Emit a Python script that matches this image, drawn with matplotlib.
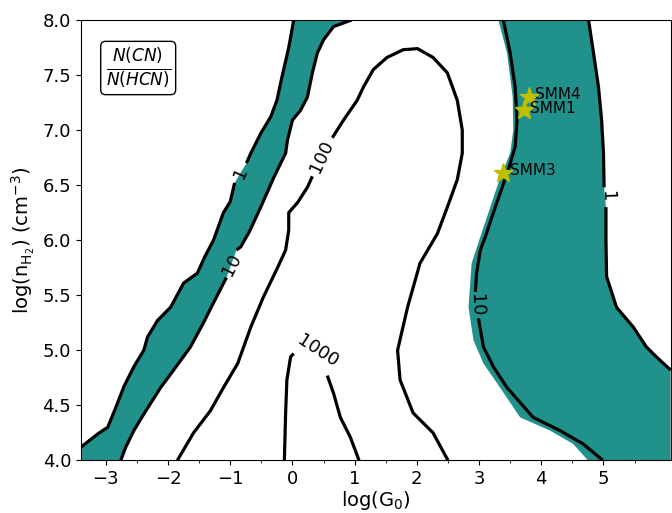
import matplotlib
matplotlib.use('Agg')
import matplotlib.pyplot as plt

# axis range, log(G0) and log(n_H2)
x_min, x_max = -3.4, 6.08
y_min, y_max = 4.0, 8.0

teal = '#21918c'

# ratio = 1, left branch (top -> bottom), broken at its label
c1_left_top_x = [0.02, -0.06, -0.17, -0.25, -0.35, -0.51, -0.67, -0.74]
c1_left_top_y = [8.0, 7.75, 7.48, 7.27, 7.12, 6.97, 6.79, 6.70]
c1_left_bot_x = [-0.93, -1.0, -1.11, -1.27, -1.40, -1.53, -1.75, -1.96, -2.17, -2.33, -2.39,
                 -2.55, -2.71, -2.84, -2.97, -3.13, -3.40]
c1_left_bot_y = [6.52, 6.35, 6.25, 6.0, 5.86, 5.70, 5.61, 5.39, 5.27, 5.12, 5.0,
                 4.85, 4.67, 4.48, 4.30, 4.24, 4.12]

# ratio = 10, left branch
c10_left_top_x = [0.95, 0.66, 0.50, 0.40, 0.32, 0.24, 0.13, 0.0, -0.08, -0.11, -0.30, -0.51,
                  -0.69, -0.83, -0.90]
c10_left_top_y = [8.0, 7.94, 7.82, 7.70, 7.52, 7.30, 7.18, 7.09, 6.91, 6.79, 6.57, 6.30,
                  6.08, 5.94, 5.91]
c10_left_bot_x = [-1.06, -1.08, -1.27, -1.43, -1.64, -1.91, -2.12, -2.39, -2.55, -2.68, -2.76]
c10_left_bot_y = [5.66, 5.64, 5.43, 5.25, 5.03, 4.82, 4.66, 4.42, 4.27, 4.12, 4.0]

# ratio = 100
c100_a_x = [-1.85, -1.59, -1.32, -1.11, -0.88, -0.67, -0.47, -0.24, -0.11, -0.06, -0.06, 0.08,
            0.24, 0.32]
c100_a_y = [4.0, 4.25, 4.45, 4.66, 4.88, 5.21, 5.48, 5.75, 5.91, 6.09, 6.25, 6.34,
            6.48, 6.58]
c100_b_x = [0.64, 0.82, 1.04, 1.14, 1.30, 1.52, 1.78, 2.01, 2.26, 2.49, 2.65, 2.73, 2.73,
            2.65, 2.49, 2.33, 2.05, 1.85, 1.69, 1.73, 1.94, 2.26, 2.50]
c100_b_y = [6.93, 7.09, 7.27, 7.39, 7.55, 7.66, 7.73, 7.74, 7.66, 7.52, 7.27, 7.0, 6.79,
            6.55, 6.30, 6.06, 5.79, 5.39, 5.0, 4.73, 4.43, 4.25, 4.0]

# ratio = 1000
c1000_a_x = [-0.13, -0.11, -0.09, -0.03, 0.02]
c1000_a_y = [4.0, 4.43, 4.73, 4.94, 4.97]
c1000_b_x = [0.56, 0.66, 0.77, 0.93, 1.07]
c1000_b_y = [4.77, 4.61, 4.39, 4.21, 4.0]

# ratio = 10, right branch
c10_right_top_x = [3.39, 3.50, 3.58, 3.61, 3.58, 3.47, 3.34, 3.23, 3.10, 3.02, 2.96, 2.94]
c10_right_top_y = [8.0, 7.70, 7.39, 7.09, 6.85, 6.64, 6.43, 6.25, 6.03, 5.91, 5.70, 5.53]
c10_right_bot_x = [2.99, 3.07, 3.23, 3.45, 3.87, 4.30, 4.67, 4.99]
c10_right_bot_y = [5.29, 5.03, 4.85, 4.66, 4.39, 4.27, 4.15, 4.0]

# left edge of the filled band on the right
fill_right_edge_x = [3.31, 3.45, 3.54, 3.55, 3.50, 3.34, 3.18, 3.02, 2.88, 2.83, 2.91, 3.07,
                     3.29, 3.66, 4.14, 4.51, 4.75]
fill_right_edge_y = [8.0, 7.70, 7.30, 7.0, 6.79, 6.57, 6.30, 6.03, 5.79, 5.39, 5.09, 4.88,
                     4.70, 4.39, 4.27, 4.15, 4.0]

# ratio = 1, right branch
c1_right_top_x = [4.76, 4.84, 4.92, 4.97, 5.0, 5.01]
c1_right_top_y = [8.0, 7.70, 7.39, 7.09, 6.79, 6.48]
c1_right_bot_x = [5.04, 5.04, 5.05, 5.21, 5.48, 5.69, 5.85, 6.08]
c1_right_bot_y = [6.30, 6.0, 5.67, 5.39, 5.21, 5.03, 4.94, 4.82]

# contour labels: text, x, y, angle
label_text = ['1', '10', '100', '1000', '10', '1']
label_x = [-0.83, -0.98, 0.47, 0.40, 2.95, 5.06]
label_y = [6.61, 5.78, 6.76, 4.99, 5.41, 6.40]
label_rot = [67, 63, 65, -33, -88, -88]

# sources
src_names = ['SMM1', 'SMM3', 'SMM4']
src_x = [3.72, 3.39, 3.80]
src_y = [7.18, 6.61, 7.30]

fig = plt.figure(figsize=(6.72, 5.13), dpi=100)
ax = fig.add_axes([0.1205, 0.1027, 0.8775, 0.8583])

# filled band 1 < ratio < 10, left
left_poly_x = c1_left_top_x + c1_left_bot_x + [x_min] + c10_left_bot_x[::-1] + c10_left_top_x[::-1]
left_poly_y = c1_left_top_y + c1_left_bot_y + [y_min] + c10_left_bot_y[::-1] + c10_left_top_y[::-1]
ax.fill(left_poly_x, left_poly_y, color=teal, lw=0)

# filled band, right
right_poly_x = fill_right_edge_x + [x_max] + c1_right_bot_x[::-1] + c1_right_top_x[::-1]
right_poly_y = fill_right_edge_y + [y_min] + c1_right_bot_y[::-1] + c1_right_top_y[::-1]
ax.fill(right_poly_x, right_poly_y, color=teal, lw=0)

segments = [
    (c1_left_top_x, c1_left_top_y), (c1_left_bot_x, c1_left_bot_y),
    (c10_left_top_x, c10_left_top_y), (c10_left_bot_x, c10_left_bot_y),
    (c100_a_x, c100_a_y), (c100_b_x, c100_b_y),
    (c1000_a_x, c1000_a_y), (c1000_b_x, c1000_b_y),
    (c10_right_top_x, c10_right_top_y), (c10_right_bot_x, c10_right_bot_y),
    (c1_right_top_x, c1_right_top_y), (c1_right_bot_x, c1_right_bot_y),
]
for sx, sy in segments:
    ax.plot(sx, sy, color='black', lw=2.3, solid_capstyle='butt', solid_joinstyle='round')

for t, lx, ly, r in zip(label_text, label_x, label_y, label_rot):
    ax.text(lx, ly, t, fontsize=13, rotation=r, ha='center', va='center',
            rotation_mode='anchor')

ax.plot(src_x, src_y, '*', color='y', markersize=14, zorder=5)
for name, sx, sy in zip(src_names, src_x, src_y):
    ax.text(sx + 0.1, sy + 0.02, name, fontsize=11, ha='left', va='center', zorder=6)

ax.text(0.097, 0.891, r'$\frac{N(CN)}{N(HCN)}$', transform=ax.transAxes, fontsize=17.5,
        ha='center', va='center',
        bbox=dict(boxstyle='round,pad=0.2', facecolor='white', edgecolor='black'))

ax.set_xlim(x_min, x_max)
ax.set_ylim(y_min, y_max)
ax.set_xticks(range(-3, 6))
ax.set_xticks([-2.5, -1.5, -0.5, 0.5, 1.5, 2.5, 3.5, 4.5, 5.5, -3.0], minor=True)
ax.set_yticks([4.0, 4.5, 5.0, 5.5, 6.0, 6.5, 7.0, 7.5, 8.0])
ax.tick_params(labelsize=13)
ax.set_xlabel(r'log(G$_0$)', fontsize=14, labelpad=1)
ax.set_ylabel(r'log(n$_{\mathrm{H_2}}$) (cm$^{-3}$)', fontsize=14)

fig.savefig('out.png', dpi=100)
